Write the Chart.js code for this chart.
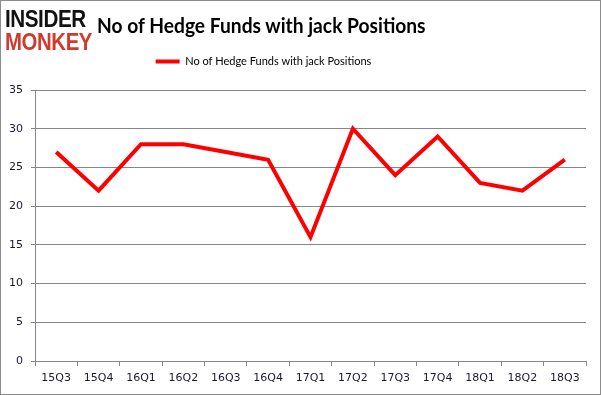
<!DOCTYPE html>
<html>
<head>
<meta charset="utf-8">
<script src="https://cdn.jsdelivr.net/npm/chart.js@4.4.1/dist/chart.umd.min.js"></script>
<style>
  html, body { margin: 0; padding: 0; background: #fff; }
  #wrap { position: relative; width: 601px; height: 395px; box-sizing: border-box; border: 1px solid #8c8c8c; overflow: hidden; }
  #c { position: absolute; left: 0; top: 0; }
  .logo { position: absolute; font-family: "Liberation Sans", Arial, sans-serif; font-weight: bold; transform-origin: 0 0; white-space: nowrap; line-height: 1; }
  #l1 { left: 4px; top: 6px; font-size: 24px; color: #111; transform: scaleX(0.86); letter-spacing: -0.5px; }
  #l2 { left: 4px; top: 29px; font-size: 24px; color: #d13a2c; transform: scaleX(0.85); letter-spacing: -0.5px; }
  #title { position: absolute; left: 96px; top: 11px; font-family: Lato, "Open Sans", sans-serif; font-weight: bold; font-size: 21px; color: #000; white-space: nowrap; transform-origin: 0 0; transform: scaleX(0.915); }
</style>
</head>
<body>
<div id="wrap">
  <canvas id="c" width="599" height="393"></canvas>
  <div class="logo" id="l1">INSIDER</div>
  <div class="logo" id="l2">MONKEY</div>
  <div id="title">No of Hedge Funds with jack Positions</div>
</div>
<script>
const categories = ["15Q3","15Q4","16Q1","16Q2","16Q3","16Q4","17Q1","17Q2","17Q3","17Q4","18Q1","18Q2","18Q3"];
const seriesName = "No of Hedge Funds with jack Positions";
const fundCounts = [27, 22, 28, 28, 27, 26, 16, 30, 24, 29, 23, 22, 26];
const yTicks = [0, 5, 10, 15, 20, 25, 30, 35];

const legendPlacePlugin = {
  id: 'legendPlace',
  afterInit(chart) {
    const lg = chart.legend;
    if (lg) {
      const orig = lg.fit.bind(lg);
      lg.fit = function() { orig(); this.height = 42; };
    }
  },
  afterLayout(chart) {
    const lg = chart.legend;
    if (lg) { lg.left -= 30; lg.right -= 30; }
  }
};

new Chart(document.getElementById('c'), {
  type: 'line',
  data: {
    labels: categories,
    datasets: [{
      label: seriesName,
      data: fundCounts,
      borderColor: '#ff0000',
      backgroundColor: '#ff0000',
      borderWidth: 4,
      pointRadius: 0,
      tension: 0,
      fill: false
    }]
  },
  options: {
    responsive: false,
    animation: false,
    devicePixelRatio: 1,
    layout: { padding: { left: 0, right: 14, top: 47, bottom: 0 } },
    plugins: {
      title: { display: false },
      tooltip: { enabled: false },
      legend: {
        display: true,
        position: 'top',
        labels: {
          usePointStyle: true,
          pointStyle: 'line',
          pointStyleWidth: 24,
          boxHeight: 4,
          padding: 8,
          color: '#000',
          font: { family: 'Lato, "Open Sans", sans-serif', size: 11 }
        }
      }
    },
    scales: {
      x: {
        type: 'category',
        offset: true,
        grid: { display: true, drawOnChartArea: false, drawTicks: true, tickLength: 5, offset: true, color: '#868686' },
        border: { display: true, color: '#868686', width: 1 },
        ticks: { color: '#1a1a2e', padding: 6, maxRotation: 0, autoSkip: false, font: { family: '"DejaVu Sans", Verdana, sans-serif', size: 11 } },
        afterFit(scale) { scale.height = 33; }
      },
      y: {
        min: 0, max: 35,
        afterBuildTicks(scale) { scale.ticks = yTicks.map(v => ({ value: v })); },
        grid: { color: '#868686', lineWidth: 1, drawTicks: true, tickLength: 4 },
        border: { display: true, color: '#868686', width: 1 },
        ticks: { color: '#1a1a2e', padding: 8, font: { family: '"DejaVu Sans", Verdana, sans-serif', size: 11 } },
        afterFit(scale) { scale.width = 34; }
      }
    }
  },
  plugins: [legendPlacePlugin]
});
</script>
</body>
</html>
